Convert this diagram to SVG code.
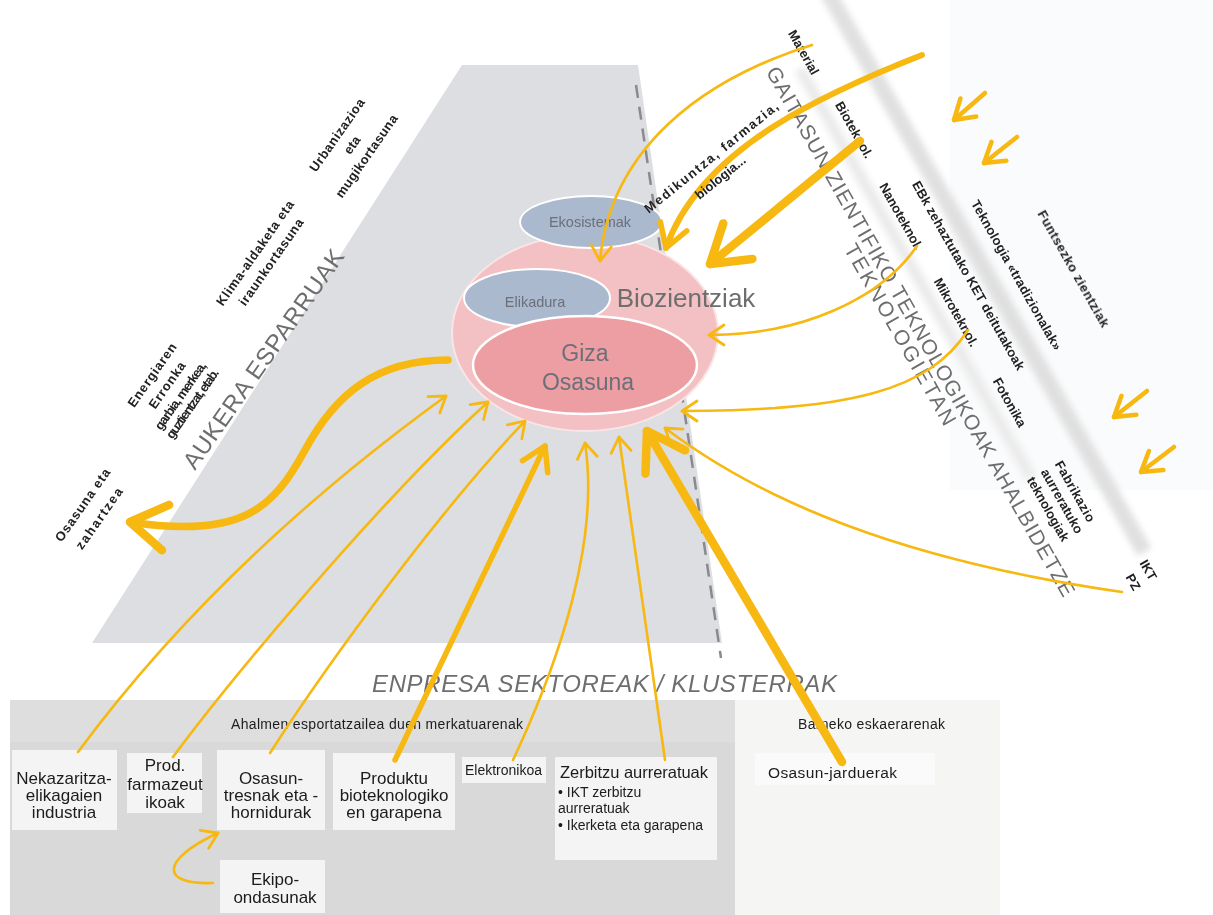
<svg xmlns="http://www.w3.org/2000/svg" width="1213" height="915" viewBox="0 0 1213 915">
<defs>
<style>
.lbl{font-family:"Liberation Sans",Arial,sans-serif;fill:#1c1c1c}
.rl{font-family:"Liberation Sans",Arial,sans-serif;font-weight:bold;font-size:13px;fill:#222}
.big{font-family:"Liberation Sans",Arial,sans-serif;fill:#6e6e6e}
.ell{font-family:"Liberation Sans",Arial,sans-serif;fill:#6c6f7a}
.c{fill:none;stroke:#f6b811;stroke-linecap:round;stroke-linejoin:round}
.t{stroke-width:2.6}
.m{stroke-width:5.5}
.k{stroke-width:8.5}
.box{fill:#f4f4f4}
</style>
<filter id="soft" x="-10%" y="-10%" width="120%" height="120%"><feGaussianBlur stdDeviation="3"/></filter>
<marker id="hs" markerUnits="userSpaceOnUse" viewBox="-24 -16 28 32" markerWidth="28" markerHeight="32" refX="0" refY="0" orient="auto">
<path d="M-15,-10 L0,0 L-15,10" fill="none" stroke="#f6b811" stroke-width="2.8" stroke-linecap="round" stroke-linejoin="round"/>
</marker>
<marker id="hm" markerUnits="userSpaceOnUse" viewBox="-30 -20 34 40" markerWidth="34" markerHeight="40" refX="0" refY="0" orient="auto">
<path d="M-23,-14 L0,0 L-23,14" fill="none" stroke="#f6b811" stroke-width="5.5" stroke-linecap="round" stroke-linejoin="round"/>
</marker>
<marker id="hl" markerUnits="userSpaceOnUse" viewBox="-44 -30 50 60" markerWidth="50" markerHeight="60" refX="0" refY="0" orient="auto">
<path d="M-36,-23 L0,0 L-36,23" fill="none" stroke="#f6b811" stroke-width="8.5" stroke-linecap="round" stroke-linejoin="round"/>
</marker>
<marker id="hc" markerUnits="userSpaceOnUse" viewBox="-26 -18 30 36" markerWidth="30" markerHeight="36" refX="0" refY="0" orient="auto">
<path d="M-19,-12 L0,0 L-19,12" fill="none" stroke="#f6b811" stroke-width="4.5" stroke-linecap="round" stroke-linejoin="round"/>
</marker>
</defs>

<!-- backgrounds -->
<rect width="1213" height="915" fill="#ffffff"/>
<rect x="950" y="0" width="263" height="490" fill="#fafbfc"/>
<polygon points="462,65 638,65 722,643 92,643" fill="#dcdee2"/>
<g transform="translate(800,0) rotate(60.5)" filter="url(#soft)">
<rect x="0" y="-36" width="650" height="16" fill="#d6d6d6" opacity="0.75"/>
<rect x="60" y="28" width="470" height="12" fill="#ebebeb"/>
</g>
<rect x="10" y="700" width="725" height="215" fill="#d9d9d9"/>
<rect x="10" y="700" width="725" height="42" fill="#dedede"/>
<rect x="735" y="700" width="265" height="215" fill="#f5f5f3"/>
<line x1="636" y1="85" x2="721" y2="658" stroke="#8a8a8e" stroke-width="2.5" stroke-dasharray="13 9"/>

<!-- left: opportunity areas -->
<g id="aukera-esparruak">
<text class="big" font-size="24" transform="translate(195,471) rotate(-55)" x="0" y="0" textLength="262">AUKERA ESPARRUAK</text>
</g>
<g id="urbanizazioa">
<text class="rl" transform="translate(337,135) rotate(-55)" x="0" y="4.5" text-anchor="middle" textLength="86">Urbanizazioa</text>
<text class="rl" transform="translate(352,145) rotate(-55)" x="0" y="4.5" text-anchor="middle">eta</text>
<text class="rl" transform="translate(366.5,156) rotate(-55)" x="0" y="4.5" text-anchor="middle" textLength="98">mugikortasuna</text>
</g>
<g id="klima">
<text class="rl" transform="translate(255,253) rotate(-55)" x="0" y="4.5" text-anchor="middle" textLength="125">Klima-aldaketa eta</text>
<text class="rl" transform="translate(271,262) rotate(-55)" x="0" y="4.5" text-anchor="middle" textLength="103">iraunkortasuna</text>
</g>
<g id="energia">
<text class="rl" transform="translate(152,375) rotate(-55)" x="0" y="4.5" text-anchor="middle" textLength="75">Energiaren</text>
<text class="rl" transform="translate(167,385) rotate(-55)" x="0" y="4.5" text-anchor="middle" textLength="54">Erronka</text>
<text class="rl" font-size="10" transform="translate(181,396) rotate(-55)" x="0" y="3.8" text-anchor="middle" textLength="80">garbia, merkea,</text>
<text class="rl" font-size="10" transform="translate(193,404) rotate(-55)" x="0" y="3.8" text-anchor="middle" textLength="82">guztientzat, etab.</text>
</g>
<g id="osasuna-zahartzea">
<text class="rl" transform="translate(82.5,505) rotate(-55)" x="0" y="4.5" text-anchor="middle" textLength="86">Osasuna eta</text>
<text class="rl" transform="translate(99,518.5) rotate(-55)" x="0" y="4.5" text-anchor="middle" textLength="72">zahartzea</text>
</g>

<!-- right: enabling technologies -->
<g id="gaitasun">
<text class="big" font-size="21" transform="translate(772,68) rotate(60.5)" x="0" y="7.5" textLength="605">GAITASUN ZIENTIFIKO TEKNOLOGIKOAK AHALBIDETZE</text>
<text class="big" font-size="21" transform="translate(850,245) rotate(60.5)" x="0" y="7.5" textLength="205">TEKNOLOGIETAN</text>
</g>
<g id="ket">
<text class="rl" font-size="12" transform="translate(803.5,52.5) rotate(60.5)" x="0" y="4.3" text-anchor="middle">Material</text>
<text class="rl" font-size="12" transform="translate(854,130) rotate(60.5)" x="0" y="4.3" text-anchor="middle">Bioteknol.</text>
<text class="rl" font-size="12" transform="translate(901,216.5) rotate(60.5)" x="0" y="4.3" text-anchor="middle">Nanoteknol.</text>
<text class="rl" font-size="12" transform="translate(956,312.5) rotate(60.5)" x="0" y="4.3" text-anchor="middle">Mikroteknol.</text>
<text class="rl" font-size="12" transform="translate(1009.5,402.5) rotate(60.5)" x="0" y="4.3" text-anchor="middle">Fotonika</text>
<text class="rl" font-size="12.5" transform="translate(968.5,275.5) rotate(60.5)" x="0" y="4.5" text-anchor="middle" textLength="215">EBk zehaztutako KET deitutakoak</text>
</g>
<g id="tradizionalak">
<text class="rl" font-size="12.5" transform="translate(1016.5,275) rotate(60.5)" x="0" y="4.5" text-anchor="middle" textLength="170">Teknologia «tradizionalak»</text>
</g>
<g id="funtsezko">
<text class="rl" font-size="12.5" transform="translate(1074,268.5) rotate(60.5)" x="0" y="4.5" text-anchor="middle" textLength="132">Funtsezko zientziak</text>
</g>
<g id="fabrikazio">
<text class="rl" font-size="11" transform="translate(1058,462) rotate(60.5)" x="0" y="4" textLength="68">Fabrikazio</text>
<text class="rl" font-size="11" transform="translate(1044,470) rotate(60.5)" x="0" y="4" textLength="72">aurreratuko</text>
<text class="rl" font-size="11" transform="translate(1030,478) rotate(60.5)" x="0" y="4" textLength="72">teknologiak</text>
</g>
<g id="ikt-pz">
<text class="rl" font-size="12" transform="translate(1143,561) rotate(60.5)" x="0" y="4.3">IKT</text>
<text class="rl" font-size="12" transform="translate(1129,575) rotate(60.5)" x="0" y="4.3">PZ</text>
</g>

<!-- bottom: sectors -->
<g id="enpresa">
<text class="big" font-size="24" font-style="italic" x="372" y="692" textLength="465">ENPRESA SEKTOREAK / KLUSTERRAK</text>
<text class="lbl" font-size="14" x="231" y="729" textLength="292">Ahalmen esportatzailea duen merkatuarenak</text>
<text class="lbl" font-size="14" x="798" y="729" textLength="147">Barneko eskaerarenak</text>
</g>
<g id="nekazaritza">
<rect class="box" x="12" y="750" width="105" height="80"/>
<text class="lbl" font-size="17" text-anchor="middle" x="64" y="784">Nekazaritza-</text>
<text class="lbl" font-size="17" text-anchor="middle" x="64" y="801">elikagaien</text>
<text class="lbl" font-size="17" text-anchor="middle" x="64" y="818">industria</text>
</g>
<g id="farmazeutikoak">
<rect class="box" x="127" y="753" width="75" height="60"/>
<text class="lbl" font-size="17" text-anchor="middle" x="165" y="771">Prod.</text>
<text class="lbl" font-size="17" text-anchor="middle" x="165" y="790">farmazeut</text>
<text class="lbl" font-size="17" text-anchor="middle" x="165" y="808">ikoak</text>
</g>
<g id="osasun-tresnak">
<rect class="box" x="217" y="750" width="108" height="80"/>
<text class="lbl" font-size="17" text-anchor="middle" x="271" y="784">Osasun-</text>
<text class="lbl" font-size="17" text-anchor="middle" x="271" y="801">tresnak eta -</text>
<text class="lbl" font-size="17" text-anchor="middle" x="271" y="818">hornidurak</text>
</g>
<g id="produktu">
<rect class="box" x="333" y="753" width="122" height="77"/>
<text class="lbl" font-size="17" text-anchor="middle" x="394" y="784">Produktu</text>
<text class="lbl" font-size="17" text-anchor="middle" x="394" y="801">bioteknologiko</text>
<text class="lbl" font-size="17" text-anchor="middle" x="394" y="818">en garapena</text>
</g>
<g id="elektronikoa">
<rect class="box" x="462" y="757" width="84" height="26"/>
<text class="lbl" font-size="14" x="465" y="775" textLength="77">Elektronikoa</text>
</g>
<g id="zerbitzu">
<rect class="box" x="555" y="757" width="162" height="103"/>
<text class="lbl" font-size="16.5" x="560" y="778" textLength="148">Zerbitzu aurreratuak</text>
<text class="lbl" font-size="14" x="558" y="797">• IKT zerbitzu</text>
<text class="lbl" font-size="14" x="558" y="813">aurreratuak</text>
<text class="lbl" font-size="14" x="558" y="830" textLength="145">• Ikerketa eta garapena</text>
</g>
<g id="osasun-jarduerak">
<rect x="755" y="753" width="180" height="32" fill="#fafafa"/>
<text class="lbl" font-size="15.5" x="768" y="778" textLength="129">Osasun-jarduerak</text>
</g>
<g id="ekipo">
<rect class="box" x="220" y="860" width="105" height="53"/>
<text class="lbl" font-size="17" text-anchor="middle" x="275" y="885">Ekipo-</text>
<text class="lbl" font-size="17" text-anchor="middle" x="275" y="903">ondasunak</text>
</g>

<!-- centre -->
<g id="biozientziak">
<ellipse cx="585" cy="333" rx="133" ry="98" fill="#f3c0c3" stroke="#fbe4e5" stroke-width="2"/>
<text class="big" font-size="26" text-anchor="middle" x="686" y="307">Biozientziak</text>
</g>
<g id="ekosistemak">
<ellipse cx="591" cy="222" rx="71" ry="26" fill="#abb9ce" stroke="#ffffff" stroke-width="2"/>
<text class="ell" font-size="14.5" text-anchor="middle" x="590" y="227">Ekosistemak</text>
</g>
<g id="elikadura">
<ellipse cx="537" cy="298" rx="73" ry="29" fill="#abb9ce" stroke="#ffffff" stroke-width="2"/>
<text class="ell" font-size="14.5" text-anchor="middle" x="535" y="307">Elikadura</text>
</g>
<g id="giza-osasuna">
<ellipse cx="585" cy="365" rx="112" ry="49" fill="#ec9ea2" stroke="#ffffff" stroke-width="2.5"/>
<text class="ell" fill="#7a6166" font-size="23" text-anchor="middle" x="585" y="361">Giza</text>
<text class="ell" fill="#7a6166" font-size="23" text-anchor="middle" x="588" y="390">Osasuna</text>
</g>

<!-- connectors -->
<g id="connectors">
<path class="c" stroke-width="7.5" d="M448,360 C375,360 335,395 305,450 C275,505 245,540 130,522" marker-end="url(#hl)"/>
<path class="c t" d="M78,752 Q220,560 446,396" marker-end="url(#hs)"/>
<path class="c t" d="M173,757 C230,680 380,500 488,402" marker-end="url(#hs)"/>
<path class="c t" d="M270,753 C330,660 440,510 525,421" marker-end="url(#hs)"/>
<path class="c m" d="M395,760 L545,446" marker-end="url(#hm)"/>
<path class="c t" d="M513,760 C560,660 600,540 585,443" marker-end="url(#hs)"/>
<path class="c t" d="M665,760 L619,437" marker-end="url(#hs)"/>
<path class="c k" d="M842,762 L647,431" marker-end="url(#hl)"/>
<path class="c t" d="M1122,592 C900,560 760,500 665,428" marker-end="url(#hs)"/>
<path class="c t" d="M968,330 C930,390 850,411 682,411" marker-end="url(#hs)"/>
<path class="c t" d="M917,246 C880,300 800,335 709,335" marker-end="url(#hs)"/>
<path class="c k" d="M860,141 L710,264" marker-end="url(#hl)"/>
<path class="c" stroke-width="6" d="M922,55 C820,95 700,150 666,248" marker-end="url(#hm)"/>
<path class="c t" d="M812,45 C700,80 610,150 600,261" marker-end="url(#hs)"/>
<path class="c t" d="M213,883 C160,885 160,860 218,833" marker-end="url(#hs)"/>
<path class="c" stroke-width="4.5" d="M985,93 L954,120" marker-end="url(#hc)"/>
<path class="c" stroke-width="4.5" d="M1017,137 L984,163" marker-end="url(#hc)"/>
<path class="c" stroke-width="4.5" d="M1147,391 L1114,417" marker-end="url(#hc)"/>
<path class="c" stroke-width="4.5" d="M1174,447 L1141,472" marker-end="url(#hc)"/>
</g>

<g id="medikuntza">
<text class="rl" font-size="14" transform="translate(711,157) rotate(-39)" x="0" y="5" text-anchor="middle" textLength="168">Medikuntza, farmazia,</text>
<text class="rl" font-size="14" transform="translate(720,177) rotate(-39)" x="0" y="5" text-anchor="middle">biologia...</text>
</g>
</svg>
